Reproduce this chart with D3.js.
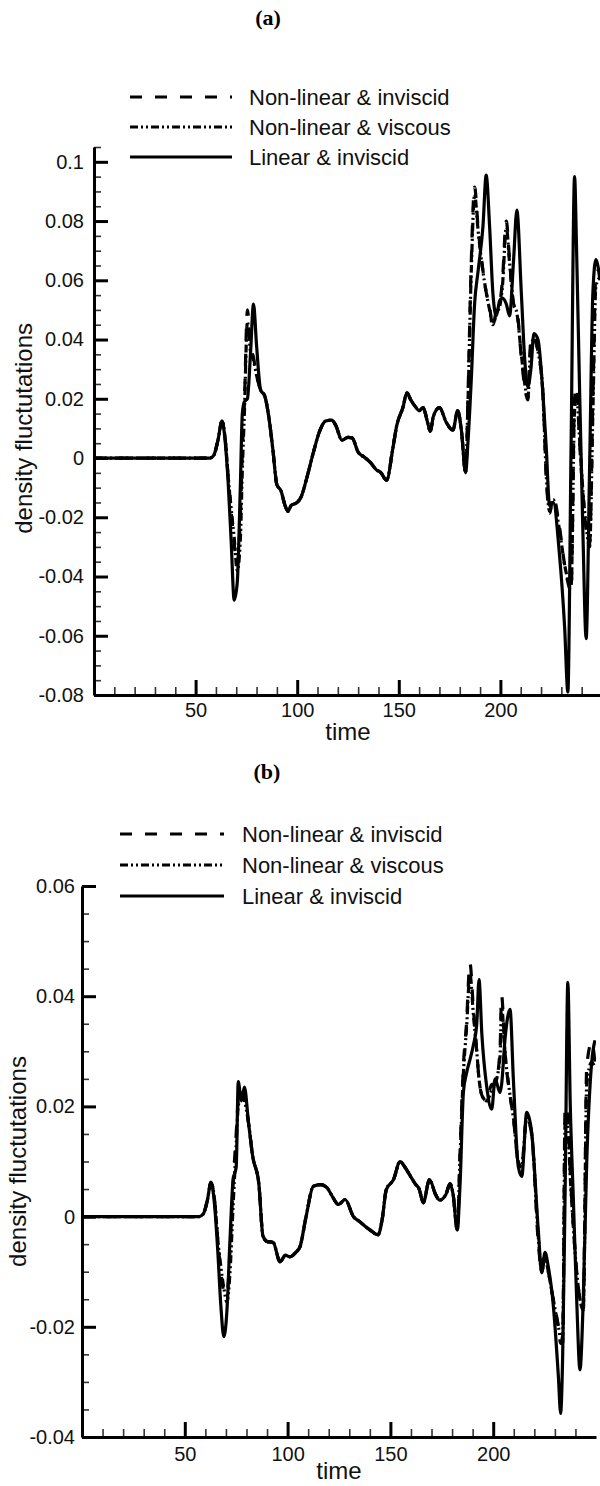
<!DOCTYPE html>
<html>
  <head>
    <title>Density fluctuations</title>
    <script src="https://d3js.org/d3.v7.min.js"></script>
    <style>
      body { margin: 0; background: #fff; }
      svg { display: block; font-family: "Liberation Sans", Arial, sans-serif; }
    </style>
  </head>
  <body>
    <svg id="chart" width="600" height="1486"></svg>
    <script>
      // legend entries, drawn in this order
      const seriesNames = ["Non-linear & inviscid", "Non-linear & viscous", "Linear & inviscid"];

      // ---- panel (a) ----
      const timeA = [0, 57, 59, 61, 63, 64.5, 66, 67.5, 69, 70.5, 72, 73, 74, 75.5, 77, 78.5, 80, 82, 84, 86,
        88, 90, 92, 94, 95.5, 97, 100, 102, 105, 108, 111, 114, 117, 119, 122, 125, 127, 130, 133, 136,
        139, 141, 144, 147, 149, 152, 154, 156, 158, 160, 162, 164, 165.5, 167, 170, 173.4, 176.6, 179, 180.8, 182.9,
        184, 185.7, 187.3, 189, 191.4, 193, 194.7, 196.3, 198, 199.6, 201, 202.9, 204.5, 206.5, 208.1, 210.3, 212, 213.5, 215, 216.5,
        218.5, 220.9, 222.6, 224.2, 226, 229, 231.6, 233.2, 234.8, 236.5, 237.5, 239, 240.6, 242.2, 243.9, 245.5, 247, 249];
      const nonlinInviscidA = [0, 0, 0.001, 0.006, 0.0125, 0.007, -0.006, -0.018, -0.029, -0.036, -0.02, 0.002, 0.018, 0.05, 0.038, 0.034, 0.028, 0.023, 0.021, 0.014,
        0.003, -0.009, -0.011, -0.016, -0.018, -0.016, -0.015, -0.013, -0.006, 0.002, 0.009, 0.0125, 0.0128, 0.011, 0.006, 0.007, 0.0068, 0.002, 0.0003, -0.0015,
        -0.004, -0.0048, -0.0075, 0.003, 0.011, 0.017, 0.022, 0.0195, 0.0175, 0.016, 0.017, 0.0125, 0.009, 0.014, 0.017, 0.012, 0.0094, 0.016, 0.0094, -0.005,
        0.0196, 0.067, 0.0915, 0.078, 0.0634, 0.056, 0.051, 0.044, 0.05, 0.052, 0.06, 0.08, 0.067, 0.052, 0.05, 0.034, 0.024, 0.0196, 0.04, 0.041,
        0.036, 0.022, -0.007, -0.0186, -0.013, -0.023, -0.036, -0.042, -0.045, 0.02, 0.024, 0.005, -0.012, -0.024, -0.029, 0.02, 0.062, 0.064];
      const nonlinViscousA = [0, 0, 0.001, 0.006, 0.0125, 0.007, -0.006, -0.017, -0.027, -0.038, -0.028, -0.004, 0.015, 0.046, 0.036, 0.033, 0.028, 0.023, 0.021, 0.014,
        0.003, -0.009, -0.011, -0.016, -0.018, -0.016, -0.015, -0.013, -0.006, 0.002, 0.009, 0.0125, 0.0128, 0.011, 0.006, 0.007, 0.0068, 0.002, 0.0003, -0.0015,
        -0.004, -0.0048, -0.0075, 0.003, 0.011, 0.017, 0.022, 0.0195, 0.0175, 0.016, 0.017, 0.0125, 0.009, 0.014, 0.017, 0.012, 0.0094, 0.016, 0.0094, -0.005,
        0.018, 0.064, 0.089, 0.077, 0.063, 0.056, 0.05, 0.045, 0.049, 0.051, 0.058, 0.078, 0.066, 0.052, 0.049, 0.035, 0.025, 0.02, 0.038, 0.04,
        0.036, 0.022, -0.006, -0.018, -0.014, -0.024, -0.036, -0.041, -0.043, 0.016, 0.021, 0.006, -0.011, -0.023, -0.03, 0.015, 0.058, 0.061];
      const linInviscidA = [0, 0, 0.001, 0.006, 0.0125, 0.006, -0.008, -0.028, -0.048, -0.042, -0.01, 0.015, 0.019, 0.02, 0.035, 0.052, 0.038, 0.023, 0.021, 0.014,
        0.003, -0.009, -0.011, -0.016, -0.018, -0.016, -0.015, -0.013, -0.006, 0.002, 0.009, 0.0125, 0.0128, 0.011, 0.006, 0.007, 0.0068, 0.002, 0.0003, -0.0015,
        -0.004, -0.0048, -0.0075, 0.003, 0.011, 0.017, 0.022, 0.0195, 0.0175, 0.016, 0.017, 0.0125, 0.009, 0.014, 0.017, 0.012, 0.0094, 0.016, 0.0094, -0.005,
        0.005, 0.027, 0.052, 0.063, 0.078, 0.0955, 0.078, 0.0557, 0.048, 0.053, 0.054, 0.052, 0.048, 0.067, 0.0837, 0.0557, 0.033, 0.024, 0.03, 0.042,
        0.04, 0.022, 0.003, -0.016, -0.015, -0.032, -0.057, -0.079, 0.005, 0.095, 0.07, 0.022, -0.025, -0.061, -0.003, 0.0557, 0.067, 0.06];
      const xTicksA = [50, 100, 150, 200];
      const yTicksA = [-0.08, -0.06, -0.04, -0.02, 0, 0.02, 0.04, 0.06, 0.08, 0.1];
      const yLabelsA = ["-0.08", "-0.06", "-0.04", "-0.02", "0", "0.02", "0.04", "0.06", "0.08", "0.1"];

      // ---- panel (b) ----
      const timeB = [0, 57, 59, 61, 62.7, 64.5, 66, 67.5, 69, 70.5, 72, 73.5, 75, 76, 77.5, 79, 81, 83, 86, 88,
        90, 93, 96.3, 99, 101, 104, 106, 109, 112.5, 116, 119, 122, 124.7, 128, 132, 135, 140, 144, 146, 148,
        151.5, 154.7, 157, 159.5, 162, 164, 166, 169, 172, 174, 177, 179, 180.5, 182.5,
        183.9, 185.5, 187, 188.7, 190.3, 192, 193.1, 194.5, 196.8, 199.3, 200.9, 203.3, 204.1, 205.7, 208.2, 209.8, 212.2, 213.9, 216.3, 218.7,
        222, 223.6, 225.2, 226.8, 229.2, 231.7, 232.8, 233.8, 235, 236.3, 237.5, 239, 240.6, 242.2, 243.8, 245.5, 247.9, 249.5];
      const nonlinInviscidB = [0, 0, 0.0005, 0.003, 0.0062, 0.003, -0.004, -0.01, -0.0135, -0.014, -0.006, 0.006, 0.015, 0.021, 0.023, 0.022, 0.017, 0.011, 0.006, -0.0035,
        -0.0045, -0.0047, -0.0082, -0.007, -0.0073, -0.0065, -0.0055, 0, 0.0055, 0.0058, 0.0053, 0.0035, 0.0022, 0.0031, 0, -0.0009, -0.0024, -0.0033, -0.0005, 0.0049,
        0.0067, 0.01, 0.009, 0.0075, 0.006, 0.005, 0.0025, 0.0067, 0.004, 0.003, 0.004, 0.006, 0.004, -0.0024,
        0.012, 0.0273, 0.035, 0.046, 0.038, 0.03, 0.025, 0.022, 0.021, 0.024, 0.024, 0.03, 0.04, 0.03, 0.022, 0.018, 0.01, 0.0095, 0.018, 0.015,
        -0.005, -0.01, -0.007, -0.01, -0.015, -0.02, -0.023, -0.023, 0.02, 0.018, 0.008, -0.002, -0.01, -0.015, -0.017, 0.0273, 0.0316, 0.028];
      const nonlinViscousB = [0, 0, 0.0005, 0.003, 0.0062, 0.003, -0.004, -0.009, -0.013, -0.0155, -0.01, 0.002, 0.013, 0.02, 0.022, 0.021, 0.017, 0.011, 0.006, -0.0035,
        -0.0045, -0.0047, -0.0082, -0.007, -0.0073, -0.0065, -0.0055, 0, 0.0055, 0.0058, 0.0053, 0.0035, 0.0022, 0.0031, 0, -0.0009, -0.0024, -0.0033, -0.0005, 0.0049,
        0.0067, 0.01, 0.009, 0.0075, 0.006, 0.005, 0.0025, 0.0067, 0.004, 0.003, 0.004, 0.006, 0.004, -0.0024,
        0.011, 0.026, 0.034, 0.044, 0.037, 0.03, 0.025, 0.022, 0.021, 0.023, 0.024, 0.029, 0.038, 0.03, 0.022, 0.018, 0.01, 0.009, 0.018, 0.015,
        -0.004, -0.01, -0.007, -0.01, -0.015, -0.02, -0.022, -0.022, 0.017, 0.016, 0.007, -0.002, -0.01, -0.015, -0.017, 0.024, 0.028, 0.027];
      const linInviscidB = [0, 0, 0.0005, 0.003, 0.0062, 0.002, -0.006, -0.016, -0.0218, -0.017, -0.004, 0.0067, 0.009, 0.0245, 0.021, 0.0235, 0.017, 0.011, 0.006, -0.0035,
        -0.0045, -0.0047, -0.0082, -0.007, -0.0073, -0.0065, -0.0055, 0, 0.0055, 0.0058, 0.0053, 0.0035, 0.0022, 0.0031, 0, -0.0009, -0.0024, -0.0033, -0.0005, 0.0049,
        0.0067, 0.01, 0.009, 0.0075, 0.006, 0.005, 0.0025, 0.0067, 0.004, 0.003, 0.004, 0.006, 0.004, -0.0024,
        0.006, 0.0225, 0.026, 0.0285, 0.031, 0.035, 0.043, 0.033, 0.0237, 0.0195, 0.025, 0.0225, 0.024, 0.032, 0.0376, 0.025, 0.0091, 0.0073, 0.0189, 0.0153,
        -0.0029, -0.0102, -0.0065, -0.0091, -0.016, -0.029, -0.0357, -0.025, 0.005, 0.0425, 0.02, 0.003, -0.015, -0.0278, -0.015, 0.01, 0.028, 0.032];
      const xTicksB = [50, 100, 150, 200];
      const yTicksB = [-0.04, -0.02, 0, 0.02, 0.04, 0.06];
      const yLabelsB = ["-0.04", "-0.02", "0", "0.02", "0.04", "0.06"];

      const dashes = ["12,13", "8,3,2,3,2,3", null];

      const svg = d3.select("#chart");
      svg.append("rect").attr("width", 600).attr("height", 1486).attr("fill", "#fff");

      drawPanel({
        id: "a", title: "(a)", titleX: 268, titleY: 25,
        left: 94, right: 602, top: 147, bottom: 695, yDomain: [-0.08, 0.105], minorK: [-16, 21],
        time: timeA, series: [nonlinInviscidA, nonlinViscousA, linInviscidA],
        xTicks: xTicksA, yTicks: yTicksA, yLabels: yLabelsA, yPad: 10, xPad: 8,
        legendY: 97, legendGap: 30, legendX1: 130, legendX2: 232, legendTextX: 249,
        xLabelY: 740, yLabelX: 32
      });
      drawPanel({
        id: "b", title: "(b)", titleX: 267, titleY: 779,
        left: 82, right: 596, top: 886, bottom: 1437, yDomain: [-0.04, 0.06], minorK: [-8, 12],
        time: timeB, series: [nonlinInviscidB, nonlinViscousB, linInviscidB],
        xTicks: xTicksB, yTicks: yTicksB, yLabels: yLabelsB, yPad: 7, xPad: 10,
        legendY: 834, legendGap: 31, legendX1: 120, legendX2: 224, legendTextX: 242,
        xLabelY: 1479, yLabelX: 26
      });

      function drawPanel(p) {
        const x = d3.scaleLinear().domain([0, 250]).range([p.left, p.right]);
        const y = d3.scaleLinear().domain(p.yDomain).range([p.bottom, p.top]);
        const g = svg.append("g");

        g.append("text")
          .attr("x", p.titleX).attr("y", p.titleY)
          .attr("text-anchor", "middle")
          .style("font-family", '"Liberation Serif", "Times New Roman", serif')
          .style("font-weight", "bold").style("font-size", "22px")
          .text(p.title);

        // curves, clipped to the plot box
        g.append("clipPath").attr("id", "clip-" + p.id)
          .append("rect")
          .attr("x", p.left).attr("y", p.top - 2)
          .attr("width", p.right - p.left).attr("height", p.bottom - p.top + 4);

        const line = d3.line()
          .x(d => x(d[0]))
          .y(d => y(d[1]))
          .curve(d3.curveMonotoneX);

        g.append("g").attr("clip-path", `url(#clip-${p.id})`)
          .selectAll("path.curve")
          .data(p.series)
          .join("path")
          .classed("curve", true)
          .attr("d", s => line(p.time.map((t, i) => [t, s[i]])))
          .attr("fill", "none")
          .attr("stroke", "#000")
          .attr("stroke-width", 3.2)
          .attr("stroke-linejoin", "round")
          .attr("stroke-dasharray", (s, i) => dashes[i]);

        // x axis, ticks pointing into the plot
        const xMinor = d3.range(10, 250, 10).filter(v => v % 50 !== 0);
        g.append("g")
          .attr("transform", `translate(0,${p.bottom})`)
          .call(d3.axisBottom(x).tickValues(xMinor).tickSize(-8).tickFormat(""))
          .call(a => a.select(".domain").remove())
          .selectAll("line").attr("stroke", "#333").attr("stroke-width", 1.6);
        const xAxis = g.append("g")
          .attr("transform", `translate(0,${p.bottom})`)
          .call(d3.axisBottom(x).tickValues(p.xTicks).tickSize(-15).tickSizeOuter(0).tickPadding(p.xPad).tickFormat(d3.format("d")));
        xAxis.select(".domain").attr("stroke-width", 3);
        xAxis.selectAll(".tick line").attr("stroke-width", 3);
        xAxis.selectAll("text").style("font-size", "20px").style("font-family", '"Liberation Sans", Arial, sans-serif').attr("fill", "#111");

        // y axis
        const yMinor = d3.range(p.minorK[0], p.minorK[1] + 1).filter(k => k % 4 !== 0).map(k => k * 0.005);
        g.append("g")
          .attr("transform", `translate(${p.left},0)`)
          .call(d3.axisLeft(y).tickValues(yMinor).tickSize(-7).tickFormat(""))
          .call(a => a.select(".domain").remove())
          .selectAll("line").attr("stroke", "#333").attr("stroke-width", 1.6);
        const yAxis = g.append("g")
          .attr("transform", `translate(${p.left},0)`)
          .call(d3.axisLeft(y).tickValues(p.yTicks).tickSize(-14).tickSizeOuter(0).tickPadding(p.yPad)
            .tickFormat((d, i) => p.yLabels[i]));
        yAxis.select(".domain").attr("stroke-width", 3);
        yAxis.selectAll(".tick line").attr("stroke-width", 3);
        yAxis.selectAll("text").style("font-size", "20px").style("font-family", '"Liberation Sans", Arial, sans-serif').attr("fill", "#111");

        // axis titles
        g.append("text")
          .attr("x", (p.left + p.right) / 2).attr("y", p.xLabelY)
          .attr("text-anchor", "middle")
          .style("font-size", "24px").attr("fill", "#111")
          .text("time");
        const yMid = (y(p.yTicks[0]) + y(p.yTicks[p.yTicks.length - 1])) / 2;
        g.append("text")
          .attr("transform", `translate(${p.yLabelX},${yMid}) rotate(-90)`)
          .attr("text-anchor", "middle")
          .style("font-size", "24px").attr("fill", "#111")
          .text("density fluctutations");

        // legend
        seriesNames.forEach((name, i) => {
          const ly = p.legendY + i * p.legendGap;
          g.append("line")
            .attr("x1", p.legendX1).attr("x2", p.legendX2)
            .attr("y1", ly).attr("y2", ly)
            .attr("stroke", "#000").attr("stroke-width", 3)
            .attr("stroke-dasharray", dashes[i]);
          g.append("text")
            .attr("x", p.legendTextX).attr("y", ly + 7.5)
            .style("font-size", "22px").attr("fill", "#111")
            .text(name);
        });
      }
    </script>
  </body>
</html>
